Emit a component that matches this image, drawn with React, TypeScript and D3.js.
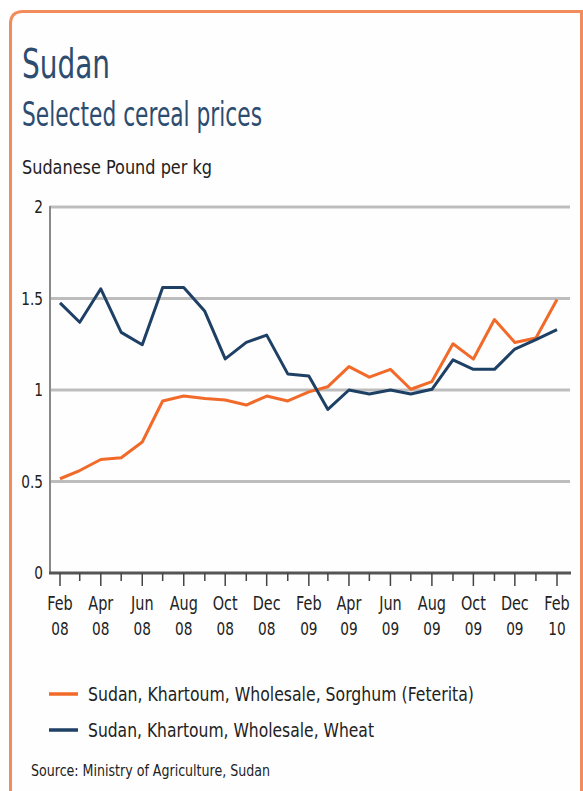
import React, { useRef, useEffect } from 'react'
import * as d3 from 'd3'

// monthly observations, Feb 2008 .. Feb 2010
const months = [
    '2008-02', '2008-03', '2008-04', '2008-05', '2008-06', '2008-07', '2008-08',
    '2008-09', '2008-10', '2008-11', '2008-12', '2009-01', '2009-02', '2009-03',
    '2009-04', '2009-05', '2009-06', '2009-07', '2009-08', '2009-09', '2009-10',
    '2009-11', '2009-12', '2010-01', '2010-02',
]
const sorghum = [
    0.515, 0.56, 0.62, 0.63, 0.716, 0.94, 0.967, 0.954, 0.945, 0.918, 0.967, 0.94, 0.99,
    1.018, 1.128, 1.07, 1.113, 1.004, 1.046, 1.253, 1.169, 1.385, 1.26, 1.284, 1.495,
]
const wheat = [
    1.476, 1.37, 1.553, 1.315, 1.247, 1.56, 1.56, 1.43, 1.17, 1.26, 1.3, 1.088, 1.077,
    0.894, 1.0, 0.978, 1.0, 0.978, 1.004, 1.165, 1.113, 1.113, 1.224, 1.275, 1.33,
]
const yTicks = [0, 0.5, 1, 1.5, 2]
const seriesNames = [
    'Sudan, Khartoum, Wholesale, Sorghum (Feterita)',
    'Sudan, Khartoum, Wholesale, Wheat',
]
const seriesColors = ['#f26a2a', '#1e4064']

const W = 583
const H = 791
const FONT = '"DejaVu Sans", sans-serif'
const NARROW = 0.76 // 窄体字的水平压缩

type Sel = d3.Selection<SVGGElement | SVGSVGElement, unknown, null, undefined>

// 用固定宽度模拟原图的窄体字
function fitText(parent: Sel, x: number, y: number, size: number, width: number, txt: string, fill: string) {
    parent.append('text')
        .attr('x', x).attr('y', y)
        .attr('font-family', FONT).attr('font-size', size)
        .attr('fill', fill)
        .attr('textLength', width)
        .attr('lengthAdjust', 'spacingAndGlyphs')
        .text(txt)
}

export default function App() {
    const svgRef = useRef<SVGSVGElement>(null)

    useEffect(() => {
        const svg = d3.select(svgRef.current) as unknown as Sel
        svg.selectAll('*').remove()

        // 外框
        svg.append('rect').attr('width', W).attr('height', H).attr('fill', '#fff')
        svg.append('path')
            .attr('d', `M10.5,${H + 10} V24 Q10.5,11.5 23,11.5 H581.5 V${H + 10}`)
            .attr('fill', '#fefefe')
            .attr('stroke', '#f28c5c')
            .attr('stroke-width', 3)

        // 标题
        fitText(svg, 22, 78, 41, 88, 'Sudan', '#2d4d70')
        fitText(svg, 22, 126, 33, 240, 'Selected cereal prices', '#2d4d70')
        fitText(svg, 22, 174, 20, 190, 'Sudanese Pound per kg', '#222')

        const dates = months.map((m) => d3.timeParse('%Y-%m')(m)!)
        const x = d3.scaleTime().domain([dates[0], dates[dates.length - 1]]).range([60, 557])
        const y = d3.scaleLinear().domain([0, 2]).range([573, 207])

        // 网格线
        svg.append('g')
            .selectAll('line')
            .data(yTicks.filter((d) => d > 0))
            .join('line')
            .attr('x1', 50).attr('x2', 570)
            .attr('y1', (d) => y(d)).attr('y2', (d) => y(d))
            .attr('stroke', '#bdbdbd').attr('stroke-width', 3)

        // Y轴
        svg.append('line')
            .attr('x1', 50).attr('x2', 50)
            .attr('y1', y(2) - 1).attr('y2', y(0))
            .attr('stroke', '#8a8a8a').attr('stroke-width', 2)
        svg.append('g')
            .selectAll('text')
            .data(yTicks)
            .join('text')
            .attr('transform', (d) => `translate(43,${y(d)}) scale(${NARROW},1)`)
            .attr('dy', '0.36em')
            .attr('text-anchor', 'end')
            .attr('font-family', FONT).attr('font-size', 18)
            .attr('fill', '#222')
            .text((d) => String(d))

        // X轴
        svg.append('line')
            .attr('x1', 49).attr('x2', 571)
            .attr('y1', y(0)).attr('y2', y(0))
            .attr('stroke', '#555').attr('stroke-width', 3)
        svg.append('g')
            .selectAll('line')
            .data(dates)
            .join('line')
            .attr('x1', (d) => x(d)).attr('x2', (d) => x(d))
            .attr('y1', y(0))
            .attr('y2', (d, i) => y(0) + (i % 2 === 0 ? 13 : 8))
            .attr('stroke', '#444').attr('stroke-width', 1.5)
        const labelled = dates.filter((d, i) => i % 2 === 0)
        const xl = svg.append('g')
            .selectAll('g')
            .data(labelled)
            .join('g')
            .attr('transform', (d) => `translate(${x(d)},0)`)
        xl.append('text')
            .attr('transform', `translate(0,610) scale(${NARROW},1)`)
            .attr('text-anchor', 'middle')
            .attr('font-family', FONT).attr('font-size', 19).attr('fill', '#222')
            .text((d) => d3.timeFormat('%b')(d))
        xl.append('text')
            .attr('transform', `translate(0,635) scale(${NARROW},1)`)
            .attr('text-anchor', 'middle')
            .attr('font-family', FONT).attr('font-size', 18).attr('fill', '#222')
            .text((d) => d3.timeFormat('%y')(d))

        // 折线
        const line = d3.line<number>()
            .x((d, i) => x(dates[i]))
            .y((d) => y(d))
        ;[sorghum, wheat].forEach((s, k) => {
            svg.append('path')
                .datum(s)
                .attr('d', line)
                .attr('fill', 'none')
                .attr('stroke', seriesColors[k])
                .attr('stroke-width', 3)
                .attr('stroke-linejoin', 'round')
        })

        // 图例
        const legendWidths = [386, 286]
        seriesNames.forEach((name, i) => {
            const g = svg.append('g').attr('transform', `translate(0,${694 + i * 36})`) as unknown as Sel
            g.append('line')
                .attr('x1', 49).attr('x2', 78)
                .attr('stroke', seriesColors[i]).attr('stroke-width', 3.5)
            fitText(g, 88, 7, 20, legendWidths[i], name, '#222')
        })

        fitText(svg, 31, 776, 16, 239, 'Source: Ministry of Agriculture, Sudan', '#222')
    }, [])

    return (
        <svg
            ref={svgRef}
            width={W}
            height={H}
            style={{ position: 'absolute', left: 0, top: 0, display: 'block' }}
        />
    )
}
